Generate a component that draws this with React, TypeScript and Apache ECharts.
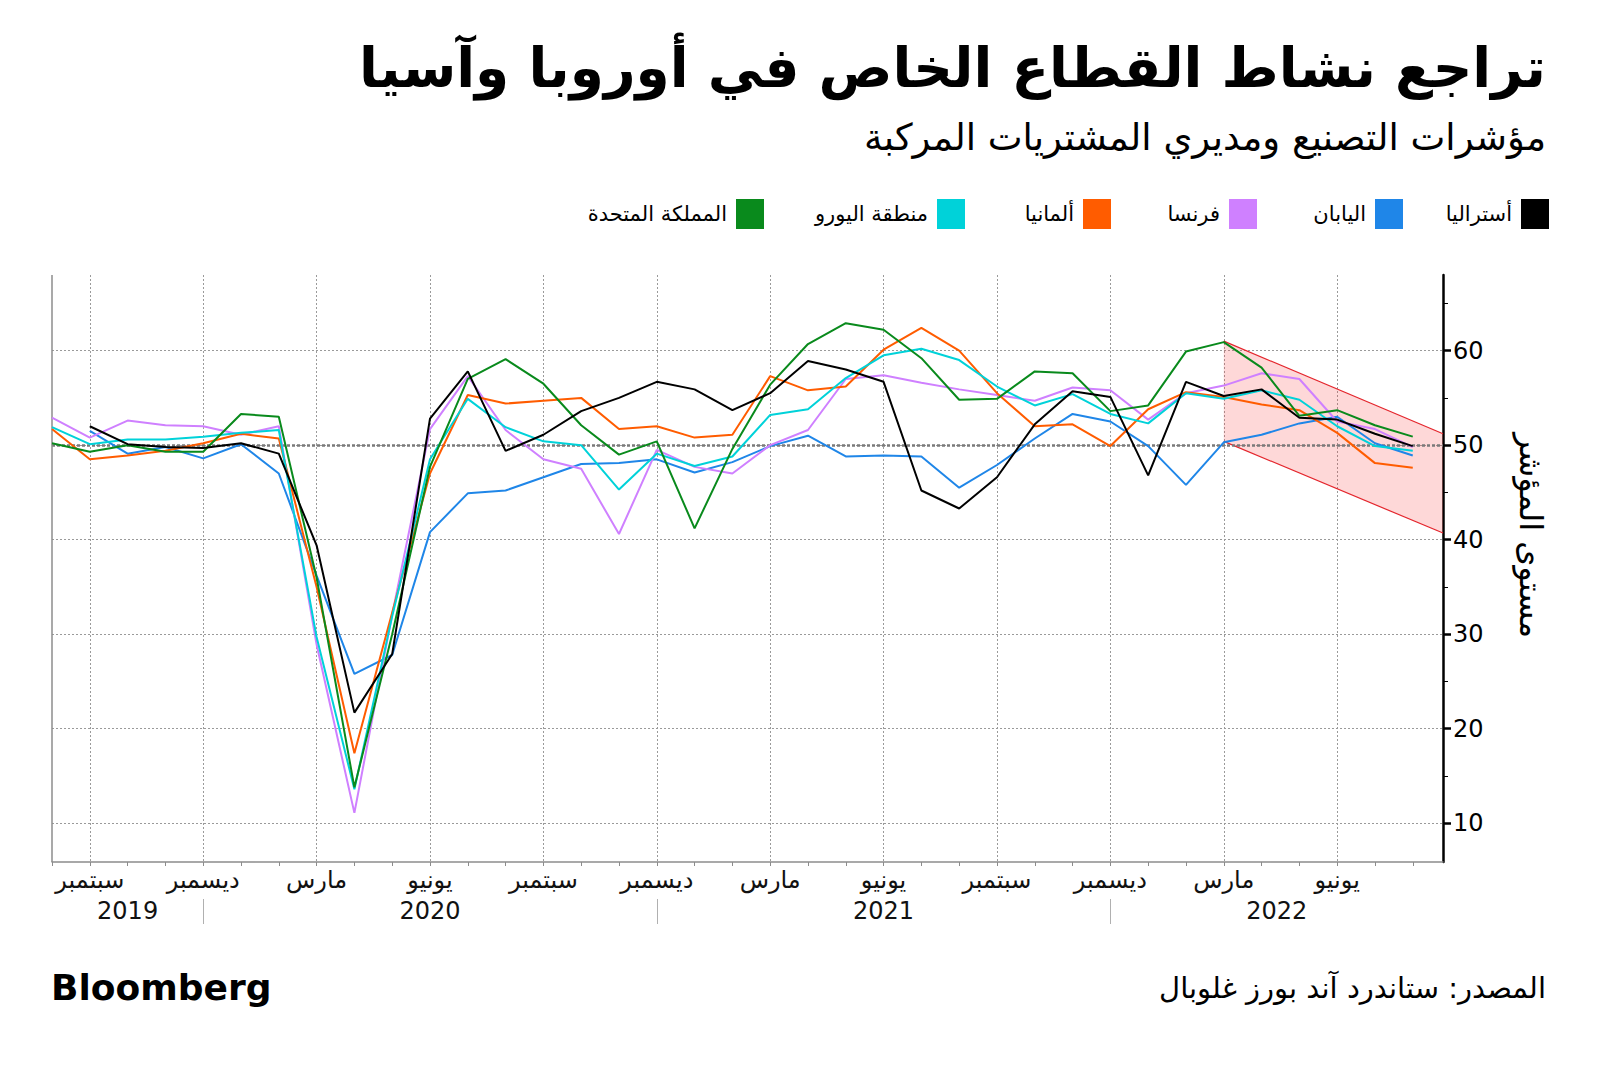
import React, { useEffect, useRef } from 'react';
import * as echarts from 'echarts';

// ---------- DATA ----------
const months = [
  '2019-08', '2019-09', '2019-10', '2019-11', '2019-12',
  '2020-01', '2020-02', '2020-03', '2020-04', '2020-05', '2020-06', '2020-07', '2020-08', '2020-09', '2020-10', '2020-11', '2020-12',
  '2021-01', '2021-02', '2021-03', '2021-04', '2021-05', '2021-06', '2021-07', '2021-08', '2021-09', '2021-10', '2021-11', '2021-12',
  '2022-01', '2022-02', '2022-03', '2022-04', '2022-05', '2022-06', '2022-07', '2022-08',
];

const australia = [null, 52.0, 50.1, 49.8, 49.7, 50.2, 49.1, 39.4, 21.7, 27.9, 52.8, 57.8, 49.4, 51.1, 53.6, 55.0, 56.7, 55.9, 53.7, 55.5, 58.9, 58.0, 56.7, 45.2, 43.3, 46.6, 52.2, 55.7, 55.1, 46.8, 56.7, 55.2, 55.9, 52.9, 52.7, 51.2, 49.9];
const japan = [null, 51.5, 49.1, 49.8, 48.6, 50.1, 47.0, 36.2, 25.8, 27.8, 40.8, 44.9, 45.2, 46.6, 48.0, 48.1, 48.5, 47.1, 48.2, 49.9, 51.0, 48.8, 48.9, 48.8, 45.5, 47.9, 50.7, 53.3, 52.5, 49.9, 45.8, 50.3, 51.1, 52.3, 53.0, 50.2, 48.9];
const france = [52.9, 50.8, 52.6, 52.1, 52.0, 51.1, 52.0, 28.9, 11.1, 32.1, 51.7, 57.3, 51.6, 48.5, 47.5, 40.6, 49.5, 47.7, 47.0, 50.0, 51.6, 57.0, 57.4, 56.6, 55.9, 55.3, 54.7, 56.1, 55.8, 52.7, 55.5, 56.3, 57.6, 57.0, 52.5, 51.7, 49.8];
const germany = [51.7, 48.5, 48.9, 49.4, 50.2, 51.2, 50.7, 35.0, 17.4, 32.3, 47.0, 55.3, 54.4, 54.7, 55.0, 51.7, 52.0, 50.8, 51.1, 57.3, 55.8, 56.2, 60.1, 62.4, 60.0, 55.5, 52.0, 52.2, 49.9, 53.8, 55.6, 55.1, 54.3, 53.7, 51.3, 48.1, 47.6];
const eurozone = [51.9, 50.1, 50.6, 50.6, 50.9, 51.3, 51.6, 29.7, 13.6, 31.9, 48.5, 54.9, 51.9, 50.4, 50.0, 45.3, 49.1, 47.8, 48.8, 53.2, 53.8, 57.1, 59.5, 60.2, 59.0, 56.2, 54.2, 55.4, 53.3, 52.3, 55.5, 54.9, 55.8, 54.8, 52.0, 49.9, 49.4];
const uk = [50.2, 49.3, 50.0, 49.3, 49.3, 53.3, 53.0, 36.0, 13.8, 30.0, 47.7, 57.0, 59.1, 56.5, 52.1, 49.0, 50.4, 41.2, 49.6, 56.4, 60.7, 62.9, 62.2, 59.2, 54.8, 54.9, 57.8, 57.6, 53.6, 54.2, 59.9, 60.9, 58.2, 53.1, 53.7, 52.1, 50.9];

const seriesNames = ['أستراليا', 'اليابان', 'فرنسا', 'ألمانيا', 'منطقة اليورو', 'المملكة المتحدة'];

// x positions are month indices (0 = Aug 2019)
const monthTickValues = [1, 4, 7, 10, 13, 16, 19, 22, 25, 28, 31, 34];
const monthTickLabels = ['سبتمبر', 'ديسمبر', 'مارس', 'يونيو', 'سبتمبر', 'ديسمبر', 'مارس', 'يونيو', 'سبتمبر', 'ديسمبر', 'مارس', 'يونيو'];
const yearLabelValues = [2, 10, 22, 32.4];
const yearLabels = ['2019', '2020', '2021', '2022'];
const yearSeparators = [4, 16, 28];
const xMin = 0;
const xMax = 36.8;

const yMin = 5.9;
const yMax = 68;
const yTickValues = [10, 20, 30, 40, 50, 60];
const yMinorTickValues = [15, 25, 35, 45, 55, 65];
const refLine = 50;

// shaded downtrend channel
const bandX = [31, 36.8];
const bandTop = [61.0, 51.2];
const bandBottom = [50.4, 40.7];

const titleText = 'تراجع نشاط القطاع الخاص في أوروبا وآسيا';
const subtitleText = 'مؤشرات التصنيع ومديري المشتريات المركبة';
const sourceText = 'المصدر: ستاندرد آند بورز غلوبال';
const yAxisName = 'مستوى المؤشر';

// ---------- STYLE / LAYOUT ----------
const FONT = 'DejaVu Sans';
const colors = ['#000000', '#1f86e8', '#cf80ff', '#ff5c00', '#00d2d9', '#098a1c'];
const legendRight = [51, 197, 343, 489, 635, 836];
const drawOrder = [1, 2, 3, 4, 5, 0];
const GRID = { left: 52, right: 157, top: 275, bottom: 206 };

export default function App() {
  const ref = useRef<HTMLDivElement>(null);

  useEffect(() => {
    if (!ref.current) return;
    const chart = echarts.init(ref.current, null, { renderer: 'svg' });
    const values = [australia, japan, france, germany, eurozone, uk];

    const lookup = (arr: number[], labels: string[]) => (v: number) => {
      const i = arr.findIndex((a) => Math.abs(a - v) < 1e-6);
      return i >= 0 ? labels[i] : '';
    };

    const lineSeries = drawOrder.map((si) => ({
      type: 'line',
      name: seriesNames[si],
      xAxisIndex: 0,
      yAxisIndex: 0,
      data: months.map((_, i) => [i, values[si][i]]).filter((p) => p[1] !== null),
      showSymbol: false,
      symbol: 'none',
      lineStyle: { color: colors[si], width: 2 },
      itemStyle: { color: colors[si] },
      z: 3,
      ...(si === 1
        ? {
            markLine: {
              silent: true,
              symbol: 'none',
              label: { show: false },
              data: [
                { yAxis: refLine, lineStyle: { color: '#7a7a7a', type: [3, 2], width: 2.5 } },
                { xAxis: xMin, lineStyle: { color: '#8c8c8c', type: 'solid', width: 1.5 } },
              ],
              z: 2,
            },
          }
        : {}),
    }));

    const option: any = {
      animation: false,
      textStyle: { fontFamily: FONT },
      title: [
        {
          text: titleText, right: 54, top: 40, padding: 0,
          textStyle: { fontFamily: FONT, fontSize: 55, fontWeight: 'bold', color: '#000' },
        },
        {
          text: subtitleText, right: 54, top: 119, padding: 0,
          textStyle: { fontFamily: FONT, fontSize: 37, fontWeight: 'normal', color: '#000' },
        },
        {
          text: sourceText, right: 54, top: 973, padding: 0,
          textStyle: { fontFamily: FONT, fontSize: 29, fontWeight: 'normal', color: '#000' },
        },
        {
          text: 'Bloomberg', left: 51, top: 969, padding: 0,
          textStyle: { fontFamily: FONT, fontSize: 36, fontWeight: 'bold', color: '#000' },
        },
      ],
      legend: seriesNames.map((n, i) => ({
        data: [n],
        right: legendRight[i],
        top: 199,
        padding: 0,
        align: 'right',
        icon: 'rect',
        itemWidth: 28,
        itemHeight: 30,
        selectedMode: false,
        textStyle: { fontFamily: FONT, fontSize: 21, color: '#000', padding: [0, 4, 0, 0] },
      })),
      grid: { ...GRID, containLabel: false, outerBoundsMode: 'none' },
      xAxis: [
        {
          type: 'value', min: xMin, max: xMax, position: 'bottom',
          axisLine: { show: true, onZero: false, lineStyle: { color: '#8c8c8c', width: 1.5 } },
          axisTick: { show: true, customValues: months.map((_, i) => i), length: 4, lineStyle: { color: '#8c8c8c', width: 1 } },
          axisLabel: {
            customValues: monthTickValues, formatter: lookup(monthTickValues, monthTickLabels),
            fontFamily: FONT, fontSize: 24, color: '#111', margin: 6,
          },
          splitLine: { show: false },
        },
        {
          type: 'value', min: xMin, max: xMax, position: 'bottom',
          axisLine: { show: false, onZero: false },
          axisTick: { show: false, customValues: monthTickValues },
          axisLabel: { show: false },
          splitLine: { show: true, lineStyle: { color: '#9a9a9a', type: [2, 2], width: 1 } },
        },
        {
          type: 'value', min: xMin, max: xMax, position: 'bottom', offset: 37,
          axisLine: { show: false, onZero: false },
          axisTick: { show: true, customValues: yearSeparators, length: 25, lineStyle: { color: '#b0b0b0', width: 1 } },
          axisLabel: {
            customValues: yearLabelValues, formatter: lookup(yearLabelValues, yearLabels),
            fontFamily: FONT, fontSize: 24, color: '#111', margin: 0,
          },
          splitLine: { show: false },
        },
      ],
      yAxis: [
        {
          type: 'value', min: yMin, max: yMax, position: 'right',
          axisLine: { show: true, onZero: false, lineStyle: { color: '#000', width: 2.5 } },
          axisTick: { show: true, customValues: yTickValues, length: 8, lineStyle: { color: '#000', width: 2.5 } },
          axisLabel: { customValues: yTickValues, fontFamily: FONT, fontSize: 24, color: '#000', margin: 10 },
          splitLine: { show: true, lineStyle: { color: '#9a9a9a', type: [2, 2], width: 1 } },
          name: yAxisName, nameLocation: 'middle', nameRotate: -90, nameGap: 72,
          nameTextStyle: { fontFamily: FONT, fontSize: 32, color: '#000', padding: [0, 66, 0, 0] },
        },
        {
          // minor ticks on the right axis
          type: 'value', min: yMin, max: yMax, position: 'right',
          axisLine: { show: false, onZero: false },
          axisTick: { show: true, customValues: yMinorTickValues, length: 5, lineStyle: { color: '#000', width: 1 } },
          axisLabel: { show: false },
          splitLine: { show: false },
        },
      ],
      series: [
        {
          type: 'custom',
          name: 'band',
          silent: true,
          xAxisIndex: 0,
          yAxisIndex: 0,
          z: 1,
          data: bandX.map((x, i) => [x, bandTop[i], bandBottom[i]]),
          encode: { x: 0, y: [1, 2] },
          renderItem: (params: any, api: any) => {
            if (params.dataIndex !== 0) return null;
            const t0 = api.coord([bandX[0], bandTop[0]]);
            const t1 = api.coord([bandX[1], bandTop[1]]);
            const b0 = api.coord([bandX[0], bandBottom[0]]);
            const b1 = api.coord([bandX[1], bandBottom[1]]);
            return {
              type: 'group',
              children: [
                { type: 'polygon', shape: { points: [t0, t1, b1, b0] }, style: { fill: 'rgba(248,60,60,0.2)' } },
                { type: 'polyline', shape: { points: [t0, t1] }, style: { stroke: '#e4252c', lineWidth: 1.2, fill: null } },
                { type: 'polyline', shape: { points: [b0, b1] }, style: { stroke: '#e4252c', lineWidth: 1.2, fill: null } },
              ],
            };
          },
        },
        ...lineSeries,
      ],
    };

    chart.setOption(option);
    return () => chart.dispose();
  }, []);

  return <div ref={ref} style={{ position: 'absolute', left: 0, top: 0, width: 1600, height: 1068, background: '#fff' }} />;
}
